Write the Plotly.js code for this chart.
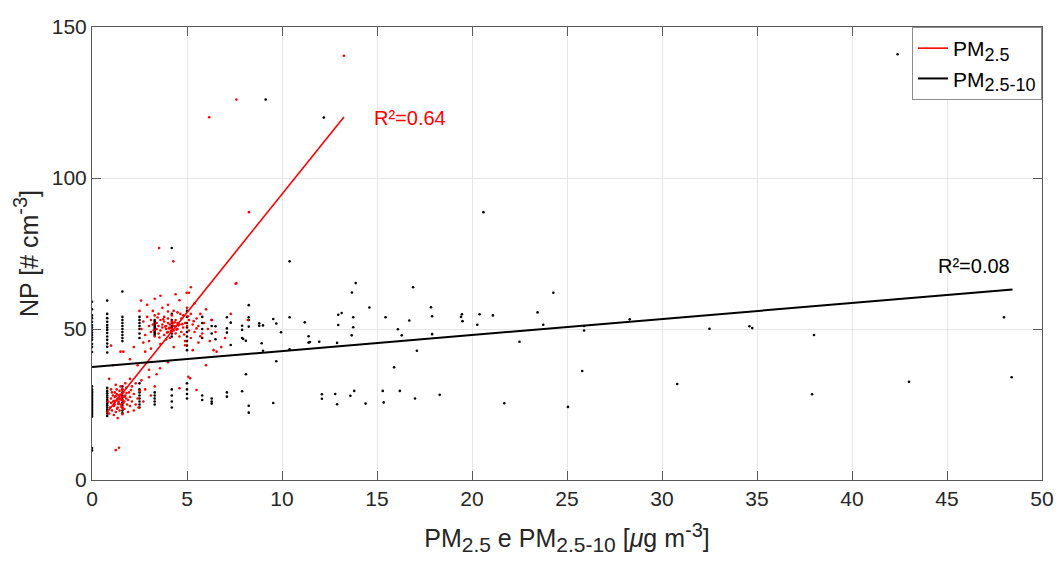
<!DOCTYPE html>
<html>
<head>
<meta charset="utf-8">
<script src="https://cdn.plot.ly/plotly-3.0.1.min.js"></script>
<style>html,body{margin:0;padding:0;background:#fff;}#chart{width:1057px;height:561px;}</style>
</head>
<body>
<div id="chart"></div>
<script>
// ---- PM2.5-10 (coarse) scatter, black ----
const coarseX = [
  0,0,0,0,0,0,0,0,0,0,0,0,0,0,0,
  0,0,0,0,0,0,0,0,0,0,0,0,0,0,0,0,0,0,0,0,
  0,0,
  0.8,0.8,0.8,0.8,0.8,0.8,0.8,0.8,0.8,0.8,0.8,0.8,0.8,
  0.8,0.8,0.8,0.8,0.8,0.8,0.8,0.8,0.8,0.8,0.8,0.8,0.8,0.8,
  1.6,1.6,1.6,1.6,1.6,1.6,1.6,1.6,1.6,1.6,
  1.6,1.6,1.6,1.6,1.6,1.6,1.6,1.6,1.6,1.6,1.6,
  2.5,2.5,2.5,2.5,2.5,2.5,2.5,
  2.5,2.5,2.5,2.5,2.5,2.5,2.5,2.5,
  3.3,3.3,3.3,3.3,3.3,3.3,3.3,3.3,3.3,3.3,3.3,
  3.3,3.3,3.3,3.3,3.3,
  4.2,4.2,4.2,4.2,4.2,4.2,4.2,4.2,4.2,
  4.2,4.2,4.2,4.2,
  5.0,5.0,5.0,5.0,5.0,5.0,5.0,5.0,5.0,
  5.0,5.0,5.0,5.0,
  5.8,5.8,5.8,5.8,5.8,5.8,
  6.3,6.3,6.3,6.3,6.3,6.3,
  6.5,6.5,
  7.1,7.1,7.1,7.1,7.1,
  7.3,7.3,
  7.9,7.9,7.9,7.9,7.96,8.1,8.1,
  8.25,8.25,8.25,8.25,8.25,8.25,
  8.8,8.8,9.0,9.0,8.93,9.14,
  9.54,9.54,9.7,9.7,9.95,
  10.4,10.4,10.4,11.2,11.4,11.4,11.47,11.96,
  12.1,12.1,12.2,12.8,12.9,12.9,12.96,12.96,13.14,
  13.6,13.67,13.68,13.75,13.75,13.8,13.88,
  14.4,14.6,15.3,15.35,15.45,15.9,16.1,16.2,16.3,16.7,16.9,
  17.0,17.1,17.84,17.9,17.9,18.3,
  19.42,19.47,19.5,20.28,20.4,20.6,21.1,21.7,22.5,23.45,23.75,24.28,
  25.05,25.8,25.9,25.9,28.3,30.8,32.5,34.6,34.75,37.9,38.0,42.4,43.0,48.0,48.4
];
const coarseY = [
  59,56.5,54.5,53.6,52.4,51.3,50.5,49.7,48.8,48,47.2,46.4,45,44,42.4,
  31,30,29.5,29,28.5,28,27.5,27,26.5,26,25.5,25,24.5,24,23.5,23,22.5,22,21.5,21,
  10.6,9.8,
  59.4,55,53.6,52.4,51.3,50.5,49.7,48.7,47.5,46.4,45.2,44.1,42.2,
  30.5,29.5,28.7,28,27.3,26.6,26,25.3,24.7,24,23.3,22.6,22,21.2,
  62.4,54,53,52,51,50,49,48,47,46,
  31,30,29,28,27.2,26.4,25.6,24.8,24,23,22.2,
  54,53,52,51,50,48.5,47,
  32,30,29,28,27,26,25,24,
  53,52.5,52,51.5,51,50.5,50,49.5,49,48.5,48,
  29,28,27,26,25,
  55,53,52,51,50.3,49.5,48.5,47.5,76.8,
  30,28,26,24,
  56,54,52,50.5,49,47.5,46,44.5,43,
  32,30,28.5,27,
  54,52,50,47,28,26.5,
  53,51,48.5,27,26,25.3,
  50.9,46.6,
  53.9,50.2,48.8,29,27.6,
  52.1,44.7,
  51.1,49.7,47,29.4,46.7,46.1,35,
  57.9,53.9,53,50.8,24.6,22.3,
  51.9,51.1,51.2,42.8,45.3,126,
  53.3,25.5,51.8,39.3,48.9,
  53.9,43.3,72.4,52.2,47.6,45.5,45.7,45.8,
  28.4,26.9,120,28.5,45.4,25.1,54.7,51.3,55.3,
  27.9,47.9,62.1,53.9,50.6,29.5,65.2,
  25.3,57.1,29.5,25.7,53.9,37.3,49.9,29.5,47.9,52.8,63.8,
  27.0,42.8,57.2,54.2,48.3,28.2,
  54,54.9,52.6,51.4,54.9,88.7,54.5,25.4,45.8,55.5,51.4,62,
  24.2,36.1,51,49.5,53.2,31.8,50.1,50.9,50.3,28.4,48,141,32.5,53.9,34.0
];

// ---- PM2.5 (fine) scatter, red ----
const fineX = [
  0.9,0.95,1.0,1.0,1.05,1.1,1.1,1.15,1.2,1.2,1.2,1.25,1.3,1.3,1.3,1.35,1.35,1.4,1.4,1.4,
  1.45,1.45,1.5,1.5,1.5,1.55,1.55,1.6,1.6,1.65,1.65,1.7,1.7,1.75,1.8,1.8,1.85,1.9,1.95,2.0,
  2.0,2.1,2.1,2.2,2.3,2.3,2.4,2.5,2.6,2.7,2.8,3.0,3.1,3.3,3.4,1.0,0.85,1.15,1.25,1.6,
  1.35,1.75,1.9,2.2,1.05,1.45,1.55,1.25,1.38,1.62,1.48,1.72,1.18,1.32,1.58,1.82,2.05,2.45,2.0,
  1.25,1.42,1.5,1.65,3.58,5.07,5.16,5.5,4.6,2.58,4.98,5.1,7.56,3.53,4.28,5.2,7.6,6.17,7.6,13.26,
  8.26,6.56,6.4,2.0,2.4,3.0,4.0,2.2,6.0,7.0,6.8,7.3,8.2,1.0,1.1,0.9,
  2.6,2.7,2.8,2.9,3.0,3.0,3.1,3.1,3.2,3.2,3.3,3.3,3.4,3.4,3.5,3.5,3.5,3.6,3.6,3.6,
  3.7,3.7,3.7,3.8,3.8,3.8,3.9,3.9,3.9,4.0,4.0,4.0,4.0,4.1,4.1,4.1,4.2,4.2,4.2,4.3,
  4.3,4.3,4.3,4.4,4.4,4.4,4.5,4.5,4.5,4.6,4.6,4.6,4.7,4.7,4.8,4.8,4.9,4.9,5.0,5.0,
  5.1,5.1,5.2,5.2,5.3,5.4,5.4,5.5,5.6,5.6,5.7,5.8,5.9,6.0,6.1,6.2,6.3,6.5,2.5,2.7,
  2.9,3.3,3.6,4.4,5.3,3.1,2.8,4.0,3.75,3.95,4.15,4.25,4.35,4.05,3.85,4.55,4.45,3.45,3.25,4.65,
  4.75,4.85,5.05,5.35,5.5,3.55,4.9,5.7
];
const fineY = [
  22,24,25.5,27,23,28,26,24.5,29,27.5,25,22.5,26.5,28.5,30,24,27,25.5,28,26,
  29.5,23,27,25,31,26.5,28.5,24,27.5,25.5,29,26,23.5,28,27,30.5,25,26.5,29,24.5,
  27.5,31,26,28.5,25,32,27,29.5,33,26,30,34,28,31,35,30,26,21.5,31.5,21.8,
  20.5,32,22.5,23,29,26.8,24.2,27.8,25.2,26.4,28.2,27.6,26.2,23.6,30,28.8,29.8,24,33.5,
  9.9,10.7,42.5,42.5,37,34.2,33.7,29.8,30.4,59.4,62,62,65,76.8,72.4,63.8,65.2,120.1,126,140.5,
  88.7,42.5,43,40,38,36.5,39,44,38,47,44,55,53,44.5,38,33.5,
  50,52.5,48,54,51,46,53,49,56,51.5,47.5,54.5,50,52,48.5,55,51,53,49.5,45,
  57,51.5,50.5,52.5,48,54,50,51,46.5,53.5,49,52,58,50.5,51.5,47,54.5,50,52.5,49.5,
  51,56,44,50.8,53,48.5,52,50,55.5,51.5,47.5,59.5,53.5,49,50.5,54.5,52,46,51,57,
  49.5,53,55,47,51.5,58.5,49,53.5,45.5,51,55,48.5,52,56.5,50,46,53,49,56,45.5,
  58,60,61,61.5,43,43.5,42.5,55.8,53.2,48.8,49.2,51.8,52.2,50.2,50.8,51.2,49.8,53.8,49.6,55,
  51.6,48.2,54.2,52.6,50.2,47.2,44.6,47.6
];

// ---- Linear fits (end points) ----
const fineFitX = [0.77, 13.26];
const fineFitY = [22.3, 120.2];
const coarseFitX = [0, 48.45];
const coarseFitY = [37.4, 63.1];

const fineR2 = 'R²=0.64';
const coarseR2 = 'R²=0.08';
const xTicks = [0,5,10,15,20,25,30,35,40,45,50];
const yTicks = [0,50,100,150];

const FONT = 'Liberation Sans, Arial, Helvetica, sans-serif';
const AX = '#5a5a5a';
const s = (t, px) => '<span style="font-size:' + px + 'px">' + t + '</span>';

const traces = [
  {x: coarseX, y: coarseY, type: 'scatter', mode: 'markers', showlegend: false,
   marker: {color: '#000000', size: 2.6}},
  {x: fineX, y: fineY, type: 'scatter', mode: 'markers', showlegend: false,
   marker: {color: '#ff0000', size: 2.6}},
  {x: fineFitX, y: fineFitY, type: 'scatter', mode: 'lines',
   name: 'PM<sub>' + s('2.5', 18) + '</sub>',
   line: {color: '#ff0000', width: 1.6}},
  {x: coarseFitX, y: coarseFitY, type: 'scatter', mode: 'lines',
   name: 'PM<sub>' + s('2.5-10', 18) + '</sub>',
   line: {color: '#000000', width: 2}}
];

const layout = {
  width: 1057, height: 561,
  margin: {l: 92, r: 15, t: 27, b: 81},
  paper_bgcolor: '#ffffff', plot_bgcolor: '#ffffff',
  font: {family: FONT, size: 21, color: '#262626'},
  showlegend: true,
  legend: {x: 1, y: 1, xanchor: 'right', yanchor: 'top',
           bgcolor: '#ffffff', bordercolor: '#8c8c8c', borderwidth: 1,
           font: {family: FONT, size: 21, color: '#000'},
           tracegroupgap: 0, itemwidth: 30},
  xaxis: {range: [0, 50], tickvals: xTicks, ticktext: xTicks.map(String),
          ticks: 'inside', ticklen: 9, tickcolor: AX, tickwidth: 1,
          showline: true, linecolor: AX, linewidth: 1, mirror: 'ticks',
          showgrid: true, gridcolor: '#e6e6e6', gridwidth: 1, zeroline: false,
          tickfont: {family: FONT, size: 21, color: '#262626'},
          title: {text: 'PM<sub>' + s('2.5', 21) + '</sub> e PM<sub>' + s('2.5-10', 21) +
                        '</sub> [<i>μ</i>g m<sup>' + s('-3', 20) + '</sup>]',
                  font: {family: FONT, size: 25, color: '#262626'}, standoff: 20},
          automargin: false},
  yaxis: {range: [0, 150], tickvals: yTicks, ticktext: yTicks.map(String),
          ticks: 'inside', ticklen: 9, tickcolor: AX, tickwidth: 1,
          showline: true, linecolor: AX, linewidth: 1, mirror: 'ticks',
          showgrid: true, gridcolor: '#e6e6e6', gridwidth: 1, zeroline: false,
          tickfont: {family: FONT, size: 21, color: '#262626'},
          title: {text: 'NP [# cm<sup>' + s('-3', 20) + '</sup>]',
                  font: {family: FONT, size: 25, color: '#262626'}, standoff: 6},
          automargin: false},
  annotations: [
    {x: 14.74, y: 119.9, xref: 'x', yref: 'y', text: fineR2, showarrow: false,
     xanchor: 'left', yanchor: 'middle', font: {family: FONT, size: 20, color: '#ff0000'}},
    {x: 44.4, y: 70.9, xref: 'x', yref: 'y', text: coarseR2, showarrow: false,
     xanchor: 'left', yanchor: 'middle', font: {family: FONT, size: 20, color: '#000000'}}
  ]
};

Plotly.newPlot('chart', traces, layout, {displayModeBar: false, staticPlot: true});
</script>
</body>
</html>
